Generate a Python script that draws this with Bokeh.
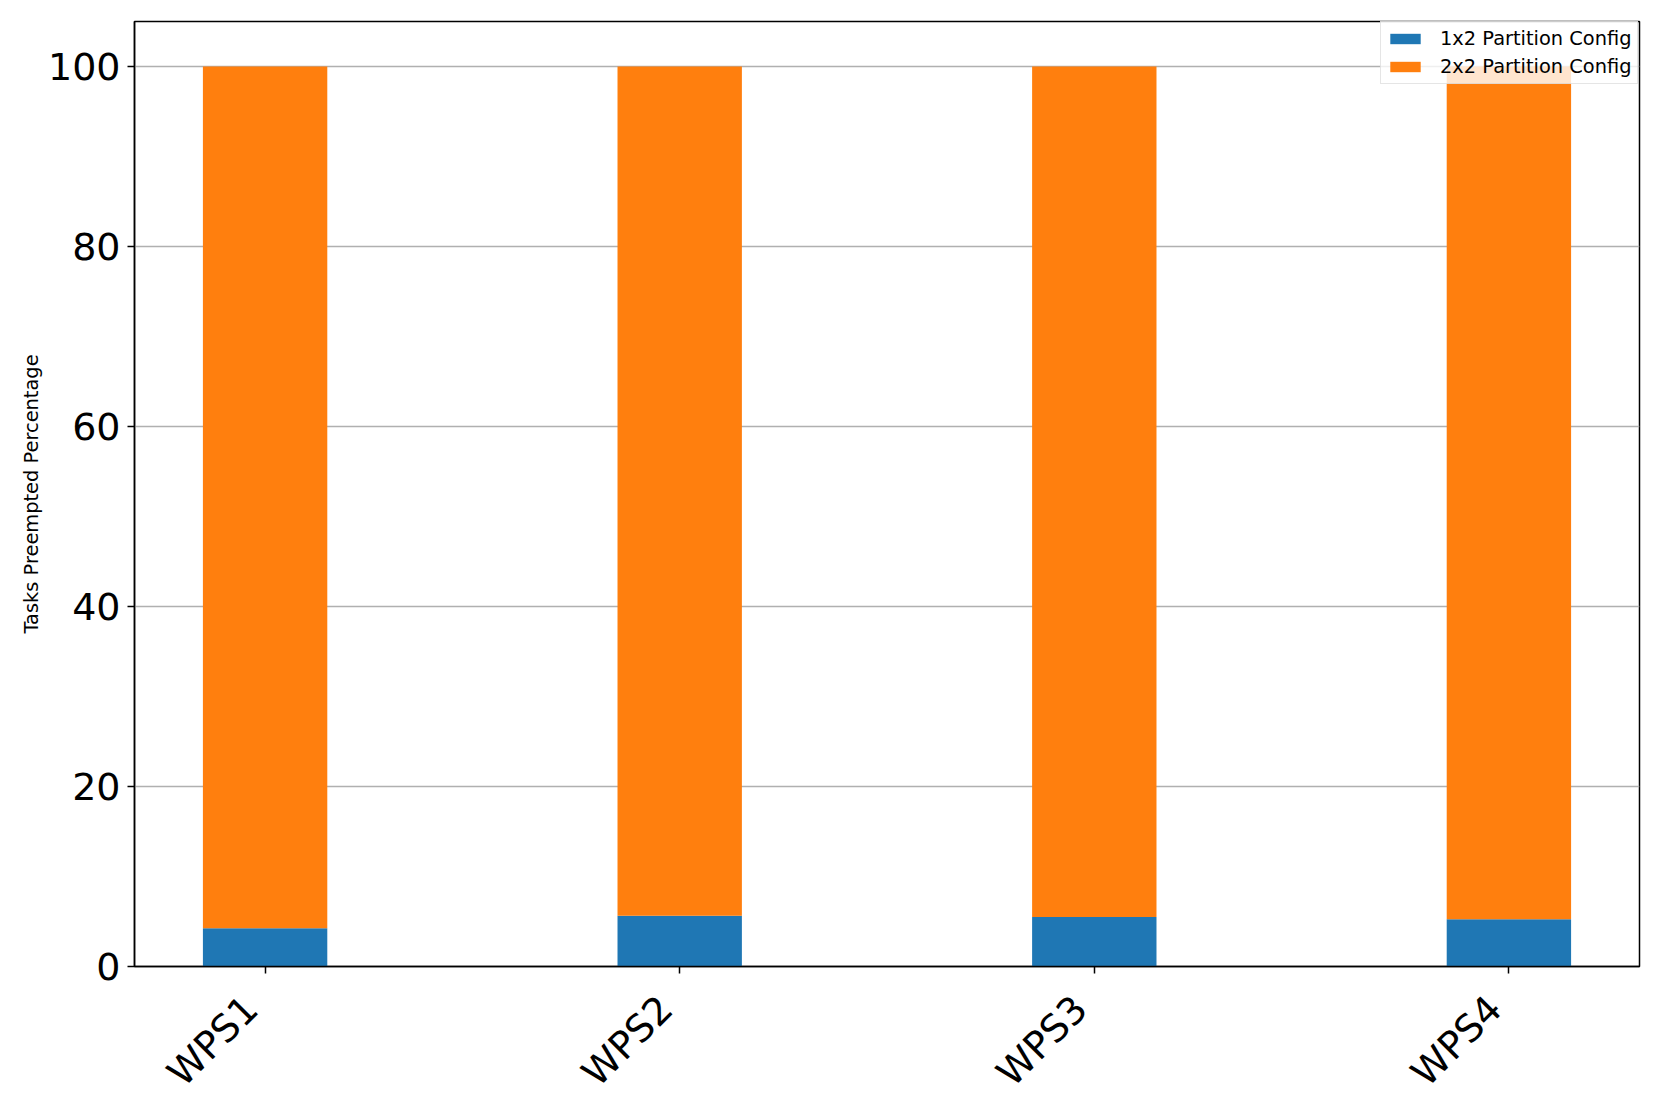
import math
from bokeh.plotting import figure
from bokeh.models import (ColumnDataSource, Range1d, FixedTicker, Legend, LegendItem)
from bokeh.embed import file_html
from bokeh.resources import INLINE

categories = ["WPS1", "WPS2", "WPS3", "WPS4"]
part_1x2 = [4.25, 5.65, 5.5, 5.25]
part_2x2 = [95.75, 94.35, 94.5, 94.75]
series_names = ["1x2 Partition Config", "2x2 Partition Config"]
colors = ["#1f77b4", "#ff7f0e"]
y_ticks = [0, 20, 40, 60, 80, 100]

xpos = list(range(len(categories)))
source = ColumnDataSource(dict(x=xpos, p1=part_1x2, p2=part_2x2))

FONT = "DejaVu Sans"

p = figure(
    output_backend="svg", toolbar_location=None,
    frame_width=1505, frame_height=945,
    min_border_left=134, min_border_right=20, min_border_top=21, min_border_bottom=138,
    x_range=Range1d(-0.315, len(categories) - 1 + 0.315),
    y_range=Range1d(0, 105),
)

renderers = p.vbar_stack(["p1", "p2"], x="x", width=0.3, color=colors, line_width=0, source=source)

p.outline_line_color = "black"
p.outline_line_width = 1.5
p.xgrid.grid_line_color = None
p.ygrid.grid_line_color = "#b0b0b0"
p.ygrid.grid_line_width = 1.5

p.xaxis.ticker = FixedTicker(ticks=xpos)
# trailing non-collapsing spaces mimic matplotlib's right-aligned rotated bbox anchor
p.xaxis.major_label_overrides = {i: c + "\u00a0\u2009" for i, c in enumerate(categories)}
p.xaxis.major_label_orientation = math.pi / 4
p.yaxis.ticker = FixedTicker(ticks=y_ticks)

for ax in (p.xaxis[0], p.yaxis[0]):
    ax.axis_line_color = "black"
    ax.axis_line_width = 1.5
    ax.major_tick_line_color = "black"
    ax.major_tick_line_width = 1.5
    ax.major_tick_out = 7
    ax.major_tick_in = 0
    ax.minor_tick_line_color = None
    ax.major_label_text_font = FONT
    ax.major_label_text_font_size = "38px"
    ax.major_label_text_color = "black"
    ax.major_label_standoff = 7

p.xaxis.major_label_standoff = 15

p.yaxis.axis_label = "Tasks Preempted Percentage"
p.yaxis.axis_label_text_font = FONT
p.yaxis.axis_label_text_font_size = "19.4px"
p.yaxis.axis_label_text_font_style = "normal"
p.yaxis.axis_label_text_color = "black"
p.yaxis.axis_label_standoff = 2

legend = Legend(
    items=[LegendItem(label=series_names[i], renderers=[renderers[i]]) for i in range(2)],
    location=(1246, 882),
    label_text_font=FONT, label_text_font_size="19.4px", label_text_color="black",
    glyph_width=38, glyph_height=13, label_standoff=16,
    padding=5, spacing=4, margin=0, label_height=24,
    border_line_color="#cccccc", border_line_width=1,
    background_fill_color="white", background_fill_alpha=0.8,
)
p.add_layout(legend, "center")

open("out.html", "w").write(file_html(p, INLINE))
